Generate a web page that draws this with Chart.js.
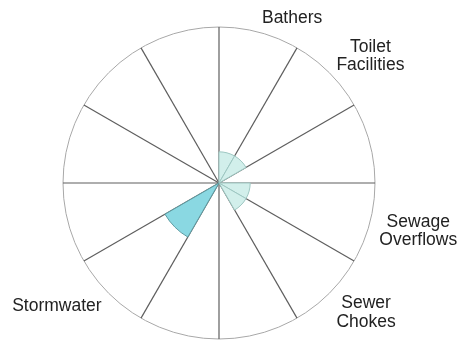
<!DOCTYPE html>
<html>
<head>
<meta charset="utf-8">
<script src="https://cdn.jsdelivr.net/npm/chart.js@4/dist/chart.umd.min.js"></script>
<style>
  html, body { margin: 0; padding: 0; background: #fff; }
</style>
</head>
<body>
<canvas id="polarChart" width="459" height="340"></canvas>
<script>
// 12 setores, só alguns com rótulo
const categorias = ['Bathers', 'Toilet Facilities', '', 'Sewage Overflows', 'Sewer Chokes', '', '', 'Stormwater', '', '', '', ''];
const valores = [2, 2, 0, 2, 2, 0, 0, 4, 0, 0, 0, 0];
const escalaMax = 10;

const corClara = '#d2efeb';
const bordaClara = '#9ec7c2';
const corForte = '#8ad8e2';
const bordaForte = '#5e9ca3';

const fonteRotulo = 17.5;
const alturaMaiuscula = 12.5;
const entreLinhas = 18.5;

// desenha os rótulos fora do círculo, linhas centralizadas entre si
const rotulosPlugin = {
    id: 'rotulos',
    afterDraw(chart) {
        const scale = chart.scales.r;
        const ctx = chart.ctx;
        const meioSetor = Math.PI / categorias.length;
        ctx.save();
        ctx.font = `${fonteRotulo}px "Liberation Sans", Arial, sans-serif`;
        ctx.fillStyle = '#222';
        ctx.textAlign = 'center';
        ctx.textBaseline = 'alphabetic';
        categorias.forEach((nome, i) => {
            if (!nome) return;
            const linhas = nome.split(' ');
            const p = scale.getPointPosition(i, scale.drawingArea + 10, meioSetor);
            const largura = Math.max(...linhas.map((l) => ctx.measureText(l).width));
            const altura = alturaMaiuscula + (linhas.length - 1) * entreLinhas;
            const cx = Math.cos(p.angle);
            const sy = Math.sin(p.angle);
            const esquerda = cx > 0.1 ? p.x : cx < -0.1 ? p.x - largura : p.x - largura / 2;
            // desloca na vertical conforme o ângulo
            const topo = p.y - altura * (1 - sy) / 2;
            linhas.forEach((linha, k) => {
                ctx.fillText(linha, esquerda + largura / 2, topo + alturaMaiuscula + k * entreLinhas);
            });
        });
        ctx.restore();
    }
};

const ctxPolar = document.getElementById('polarChart').getContext('2d');
const polarChart = new Chart(ctxPolar, {
    type: 'polarArea',
    data: {
        labels: categorias,
        datasets: [{
            data: valores,
            backgroundColor: (c) => valores[c.dataIndex] === 0 ? 'rgba(0,0,0,0)' : (valores[c.dataIndex] > 3 ? corForte : corClara),
            borderColor: (c) => valores[c.dataIndex] === 0 ? 'rgba(0,0,0,0)' : (valores[c.dataIndex] > 3 ? bordaForte : bordaClara),
            borderWidth: 1
        }]
    },
    options: {
        responsive: false,
        animation: false,
        layout: { padding: { top: 27, bottom: 1, left: 0, right: 21 } },
        plugins: {
            legend: { display: false },
            tooltip: { enabled: false }
        },
        scales: {
            r: {
                z: 1, // linhas por cima das fatias
                min: 0,
                max: escalaMax,
                ticks: { display: false, stepSize: escalaMax },
                grid: { circular: true, color: '#a8a8a8', lineWidth: 1 },
                angleLines: { display: true, color: '#5e5e5e', lineWidth: 1.2 },
                pointLabels: { display: false }
            }
        }
    },
    plugins: [rotulosPlugin]
});
</script>
</body>
</html>
